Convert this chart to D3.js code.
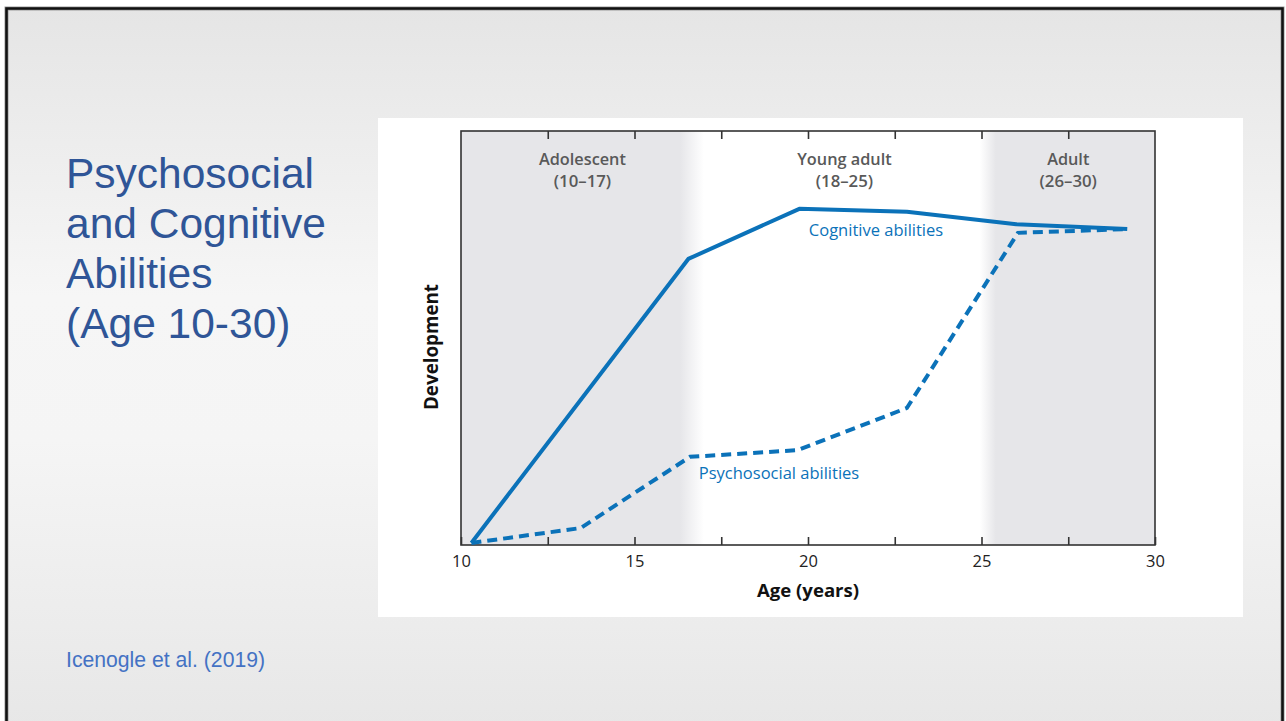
<!DOCTYPE html>
<html>
<head>
<meta charset="utf-8">
<script src="https://cdn.jsdelivr.net/npm/d3@7"></script>
<style>
  html, body { margin: 0; padding: 0; background: #ffffff; }
  svg { display: block; }
</style>
</head>
<body>
<svg id="slide" width="1286" height="721"></svg>
<script>
// Age (years) on x, relative development (0-100, unitless) on y
const cognitiveAge    = [10.3, 16.55, 19.75, 22.85, 26.0, 29.2];
const cognitiveValue  = [0.5, 69.1, 81.2, 80.5, 77.5, 76.3];
const psychosocialAge   = [10.3, 13.45, 16.6, 19.7, 22.85, 26.05, 29.2];
const psychosocialValue = [0.5, 4.1, 21.3, 22.9, 33.1, 75.4, 76.3];

// Life phases shown as labelled bands across the top
const phaseNames  = ["Adolescent", "Young adult", "Adult"];
const phaseRanges = ["(10\u201317)", "(18\u201325)", "(26\u201330)"];
const phaseCenter = [13.5, 21.05, 27.5];
const shadedStart = [10, 24.95];
const shadedEnd   = [17.0, 30];
const shadedFadeIn  = [false, true];
const shadedFadeOut = [true, false];

const xTicks = [10, 12.5, 15, 17.5, 20, 22.5, 25, 27.5, 30];
const xTickLabels = [10, 15, 20, 25, 30];

const titleLines = ["Psychosocial", "and Cognitive", "Abilities", "(Age 10-30)"];
const citation = "Icenogle et al. (2019)";

const svg = d3.select("#slide");
const defs = svg.append("defs");

// slide background
const bg = defs.append("linearGradient").attr("id", "bgGrad")
  .attr("x1", 0).attr("y1", 0).attr("x2", 0).attr("y2", 1);
bg.append("stop").attr("offset", "0%").attr("stop-color", "#e5e5e5");
bg.append("stop").attr("offset", "40%").attr("stop-color", "#f6f6f6");
bg.append("stop").attr("offset", "60%").attr("stop-color", "#f5f5f5");
bg.append("stop").attr("offset", "100%").attr("stop-color", "#e7e7e7");

svg.append("rect").attr("x", 0).attr("y", 0).attr("width", 1286).attr("height", 721).attr("fill", "#ffffff");
svg.append("rect").attr("x", 6).attr("y", 8).attr("width", 1277).attr("height", 720)
  .attr("fill", "url(#bgGrad)");
// frame with a soft grey edge
svg.append("rect").attr("x", 6.5).attr("y", 8.5).attr("width", 1276).attr("height", 720)
  .attr("fill", "none").attr("stroke", "#9a9a9a").attr("stroke-width", 4);
svg.append("rect").attr("x", 6.5).attr("y", 8.5).attr("width", 1276).attr("height", 720)
  .attr("fill", "none").attr("stroke", "#111").attr("stroke-width", 2.5);

// title
const title = svg.append("text")
  .attr("font-family", "Liberation Sans, Arial, sans-serif")
  .attr("font-size", 42.5).attr("fill", "#2f5597");
titleLines.forEach((t, i) => {
  title.append("tspan").attr("x", 66).attr("y", 188 + i * 50).text(t);
});

svg.append("text").attr("x", 66).attr("y", 667)
  .attr("font-family", "Liberation Sans, Arial, sans-serif")
  .attr("font-size", 21.2).attr("fill", "#4472c4").text(citation);

// white chart panel
svg.append("rect").attr("x", 378).attr("y", 118).attr("width", 865).attr("height", 499).attr("fill", "#ffffff");

const plot = { left: 461, right: 1155, top: 131, bottom: 545 };
const x = d3.scaleLinear().domain([10, 30]).range([plot.left, plot.right]);
const y = d3.scaleLinear().domain([0, 100]).range([plot.bottom, plot.top]);

const g = svg.append("g");
const shadeColor = "#e6e6e9";

// phase shading with soft edges
shadedStart.forEach((s, i) => {
  const x0 = x(s), x1 = x(shadedEnd[i]);
  const id = "shade" + i;
  const grad = defs.append("linearGradient").attr("id", id)
    .attr("gradientUnits", "userSpaceOnUse")
    .attr("x1", x0).attr("y1", 0).attr("x2", x1).attr("y2", 0);
  const fadeW = (shadedFadeIn[i] ? 16 : 24) / (x1 - x0);
  if (shadedFadeIn[i]) {
    grad.append("stop").attr("offset", 0).attr("stop-color", shadeColor).attr("stop-opacity", 0);
    grad.append("stop").attr("offset", fadeW).attr("stop-color", shadeColor).attr("stop-opacity", 1);
  } else {
    grad.append("stop").attr("offset", 0).attr("stop-color", shadeColor).attr("stop-opacity", 1);
  }
  if (shadedFadeOut[i]) {
    grad.append("stop").attr("offset", 1 - fadeW).attr("stop-color", shadeColor).attr("stop-opacity", 1);
    grad.append("stop").attr("offset", 1).attr("stop-color", shadeColor).attr("stop-opacity", 0);
  } else {
    grad.append("stop").attr("offset", 1).attr("stop-color", shadeColor).attr("stop-opacity", 1);
  }
  g.append("rect").attr("x", x0).attr("y", plot.top).attr("width", x1 - x0)
    .attr("height", plot.bottom - plot.top).attr("fill", `url(#${id})`);
});

// frame and axes
const axisColor = "#333";
g.append("rect").attr("x", plot.left).attr("y", plot.top)
  .attr("width", plot.right - plot.left).attr("height", plot.bottom - plot.top)
  .attr("fill", "none").attr("stroke", axisColor).attr("stroke-width", 1.6);

const bottomAxis = d3.axisBottom(x).tickValues(xTicks).tickSizeInner(-8).tickSizeOuter(0)
  .tickFormat(d => xTickLabels.includes(d) ? d : "").tickPadding(12);
const gx = g.append("g").attr("transform", `translate(0,${plot.bottom})`).call(bottomAxis);
gx.select(".domain").remove();
gx.selectAll("line").attr("stroke", axisColor).attr("stroke-width", 1.6);
gx.selectAll("text").attr("font-family", "Open Sans, sans-serif").attr("font-size", 16.5)
  .attr("fill", "#222").attr("dy", "0.6em");

const topAxis = d3.axisTop(x).tickValues(xTicks.slice(1, -1)).tickSizeInner(-8).tickSizeOuter(0).tickFormat("");
const gt = g.append("g").attr("transform", `translate(0,${plot.top})`).call(topAxis);
gt.select(".domain").remove();
gt.selectAll("line").attr("stroke", axisColor).attr("stroke-width", 1.6);

g.append("text").attr("x", (plot.left + plot.right) / 2).attr("y", 597)
  .attr("text-anchor", "middle").attr("font-family", "Open Sans, sans-serif")
  .attr("font-weight", "bold").attr("font-size", 18.6).attr("fill", "#111").text("Age (years)");

g.append("text").attr("transform", `translate(438,347) rotate(-90)`)
  .attr("text-anchor", "middle").attr("font-family", "Open Sans, sans-serif")
  .attr("font-weight", "bold").attr("font-size", 18.8).attr("fill", "#111").text("Development");

// phase labels
phaseNames.forEach((n, i) => {
  const t = g.append("text").attr("text-anchor", "middle")
    .attr("font-family", "Open Sans, sans-serif").attr("font-size", 16.3)
    .attr("font-weight", 600).attr("fill", "#595959");
  t.append("tspan").attr("x", x(phaseCenter[i])).attr("y", 165).text(n);
  t.append("tspan").attr("x", x(phaseCenter[i])).attr("y", 187).attr("font-size", 16.8).text(phaseRanges[i]);
});

// curves
const blue = "#0b72b9";
const cognitive = cognitiveAge.map((a, i) => [a, cognitiveValue[i]]);
const psychosocial = psychosocialAge.map((a, i) => [a, psychosocialValue[i]]);
const line = d3.line().x(d => x(d[0])).y(d => y(d[1]));

g.append("path").datum(psychosocial).attr("d", line)
  .attr("fill", "none").attr("stroke", blue).attr("stroke-width", 4)
  .attr("stroke-dasharray", "10,6");
g.append("path").datum(cognitive).attr("d", line)
  .attr("fill", "none").attr("stroke", blue).attr("stroke-width", 4)
  .attr("stroke-linejoin", "round");

g.append("text").attr("x", 876).attr("y", 236).attr("text-anchor", "middle")
  .attr("font-family", "Open Sans, sans-serif").attr("font-size", 16.5)
  .attr("fill", blue).text("Cognitive abilities");
g.append("text").attr("x", 779).attr("y", 479).attr("text-anchor", "middle")
  .attr("font-family", "Open Sans, sans-serif").attr("font-size", 16.5)
  .attr("fill", blue).text("Psychosocial abilities");
</script>
</body>
</html>
